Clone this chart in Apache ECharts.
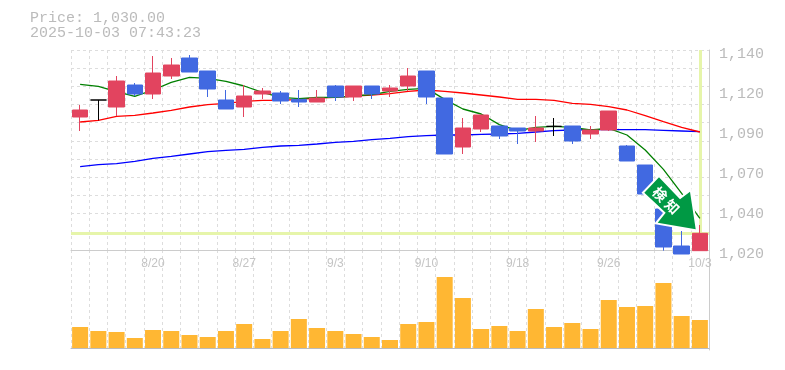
<!DOCTYPE html>
<html><head><meta charset="utf-8">
<style>html,body{margin:0;padding:0;background:#fff}#c{width:785px;height:370px}</style>
<script src="https://cdn.jsdelivr.net/npm/echarts@6/dist/echarts.min.js"></script>
</head><body><div id="c"></div>
<script>
const titleLines = ['Price: 1,030.00', '2025-10-03 07:43:23'];
const priceLabels = ['1,020', '1,040', '1,070', '1,090', '1,120', '1,140'];
const dates = ['8/14','8/15','8/18','8/19','8/20','8/21','8/22','8/25','8/26','8/27','8/28','8/29','9/1','9/2','9/3','9/4','9/5','9/8','9/9','9/10','9/11','9/12','9/16','9/17','9/18','9/19','9/22','9/24','9/25','9/26','9/29','9/30','10/1','10/2','10/3'];
const shownDates = ['8/20','8/27','9/3','9/10','9/18','9/26','10/3'];
const opens = [1099.8,1110,1105.8,1119,1113.6,1124.4,1135.2,1127.4,1110,1105.8,1113.6,1114.2,1110.4,1108.8,1118.4,1111.8,1118.4,1115.4,1118.4,1127.4,1111.2,1081.8,1092.6,1094.4,1093.2,1091.4,1094.2,1094.4,1089.6,1092,1082.4,1071,1044.6,1022.4,1019.6];
const closes = [1104,1110,1121.4,1113.6,1126.2,1131,1126.8,1116.6,1104.6,1112.4,1115.4,1109.4,1108.8,1111.2,1111.8,1118.4,1113.6,1117.2,1124.4,1111.8,1077.6,1093.2,1101,1088.4,1091.4,1093.2,1094.2,1085.4,1092,1103.4,1073.4,1053.6,1021.8,1017.6,1030];
const lows = [1091.4,1097.8,1100.4,1112.4,1110.6,1122.6,1126.8,1111.8,1104.6,1099.8,1110.6,1107.6,1105.8,1108.8,1109.4,1109.4,1110.6,1111.8,1115.4,1107.6,1077.6,1077.6,1090.8,1086.6,1083.6,1084.8,1088.4,1083.6,1086.6,1091.4,1073.4,1053.6,1019.6,1017.6,1019.6];
const highs = [1107,1110,1124.4,1120.2,1136.4,1135.2,1137,1127.4,1116,1119,1117.2,1115.4,1116,1116,1119,1118.4,1118.4,1119,1129.2,1127.4,1111.2,1099.2,1101,1094.4,1093.2,1100.4,1099.2,1094.4,1094.4,1103.4,1083,1071,1044.6,1031.4,1035];
const maShort = [1119.4,1118.2,1115,1112.2,1116,1120.6,1123.6,1123,1121.2,1118.4,1114.6,1111.6,1110.8,1111.6,1111.6,1112.4,1113.2,1115.2,1116.4,1117,1110.4,1104.6,1101.6,1095.2,1091.6,1093.6,1094.2,1093.6,1092,1093,1089,1080,1068.4,1054,1039];
const maMid = [1096.8,1097.8,1100.2,1100.8,1102.2,1103.8,1105.8,1107.2,1108,1109.2,1109.8,1109.8,1110.4,1111.2,1111.6,1112.4,1113,1113.8,1115.2,1116,1115.2,1114.2,1113,1111.8,1110.4,1110.4,1109.8,1108,1107.4,1106,1104,1100.6,1097,1093.6,1090.8];
const maLong = [1070,1071.2,1071.8,1073.2,1075,1076.2,1077.6,1079,1079.8,1080.4,1081.6,1082.4,1082.8,1083.6,1084.6,1085.2,1086.2,1087,1088,1088.6,1089,1089,1089.4,1089.6,1090,1090.8,1091.6,1092,1092.2,1092.2,1092.2,1092.2,1091.8,1091.4,1091];
const volumes = [63,51,48,30,54,51,39,33,51,72,27,51,87,60,51,42,33,24,72,78,213,150,57,66,51,117,63,75,57,144,123,126,195,96,84];
const lastPrice = 1030;
const lastDate = '10/3';

const UP = '#e2445f', DOWN = '#4169e1';
const candles = dates.map((d, i) => {
  const item = { value: [opens[i], closes[i], lows[i], highs[i]] };
  if (opens[i] === closes[i]) item.itemStyle = { color: '#000', color0: '#000', borderColor: '#000', borderColor0: '#000', borderColorDoji: '#000', borderWidth: 1 };
  return item;
});
const gridLine = { show: true, lineStyle: { color: '#ddd', type: [3, 3], width: 1 } };
const lineSeries = (name, data, color, extra) => Object.assign({
  name, type: 'line', data, xAxisIndex: 0, yAxisIndex: 0, symbol: 'none', z: 2, animation: false,
  lineStyle: { color, width: 1.3 }
}, extra || {});

const chart = echarts.init(document.getElementById('c'), null, { renderer: 'canvas' });
chart.setOption({
  animation: false,
  backgroundColor: '#fff',
  title: { text: titleLines.join('\n'), left: 30, top: 11, padding: 0,
    textStyle: { fontFamily: 'Liberation Mono', fontSize: 15, fontWeight: 'normal', color: '#bbb', lineHeight: 15 } },
  grid: [
    { left: 71, width: 638, top: 50, height: 200 },
    { left: 71, width: 638, top: 250, height: 100 },
    { left: 71, width: 638, top: 54, height: 200 }
  ],
  xAxis: [
    { type: 'category', gridIndex: 0, data: dates, boundaryGap: true,
      axisTick: { show: false },
      axisLine: { show: true, lineStyle: { color: '#ccc', width: 1 } },
      axisLabel: { color: '#c4c4c4', fontFamily: 'Liberation Sans', fontSize: 12, margin: 8, showMaxLabel: true, hideOverlap: false,
        interval: (i, v) => shownDates.includes(v) },
      splitLine: Object.assign({ interval: 0 }, gridLine) },
    { type: 'category', gridIndex: 1, data: dates, boundaryGap: true,
      axisTick: { show: false },
      axisLine: { show: true, lineStyle: { color: '#bbb', width: 1 } },
      axisLabel: { show: false },
      splitLine: Object.assign({ interval: 0 }, gridLine) },
    { type: 'category', gridIndex: 2, data: dates, show: false }
  ],
  yAxis: [
    { type: 'value', gridIndex: 0, min: 1020, max: 1140, show: false, splitLine: { show: false } },
    { type: 'value', gridIndex: 0, min: 0, max: 11, interval: 1, position: 'right',
      axisLine: { show: true, onZero: false, lineStyle: { color: '#ccc', width: 1 } },
      axisTick: { show: false }, axisLabel: { show: false }, splitLine: gridLine },
    { type: 'value', gridIndex: 2, min: 0, max: 5, interval: 1, position: 'right',
      axisLine: { show: false }, axisTick: { show: false }, splitLine: { show: false },
      axisLabel: { color: '#bbb', fontFamily: 'Liberation Mono', fontSize: 15, margin: 10,
        formatter: v => priceLabels[v] } },
    { type: 'value', gridIndex: 1, min: -6, max: 294, position: 'right',
      axisLine: { show: true, onZero: false, lineStyle: { color: '#ccc', width: 1 } },
      axisTick: { show: false }, axisLabel: { show: false }, splitLine: { show: false } }
  ],
  series: [
    lineSeries('ref', [], '#e6f5aa', { z: 1, markLine: { z: 1, silent: true, symbol: 'none', label: { show: false }, animation: false,
      lineStyle: { color: '#e6f5aa', width: 3, type: 'solid' },
      data: [{ yAxis: lastPrice }, { xAxis: lastDate }] } }),
    lineSeries('long', maLong, '#0000ff'),
    lineSeries('mid', maMid, '#ff0000'),
    lineSeries('short', maShort, '#008000'),
    { name: 'price', type: 'candlestick', xAxisIndex: 0, yAxisIndex: 0, data: candles, barWidth: 16, clip: false, z: 3,
      itemStyle: { color: UP, color0: DOWN, borderColor: UP, borderColor0: DOWN, borderWidth: 1 } },
    { name: 'volume', type: 'bar', xAxisIndex: 1, yAxisIndex: 3, data: volumes, barWidth: 16, z: 3,
      itemStyle: { color: '#ffb733' } }
  ],
  graphic: [
    { type: 'polygon', z: 100,
      shape: { points: [[659,177.3],[680,199.3],[690,191.7],[695.7,229.3],[657.7,222.7],[665.7,212.7],[644.3,192.7]] },
      style: { fill: '#009944', stroke: '#fff', lineWidth: 4, strokeFirst: true, lineJoin: 'miter' } },
    { type: 'text', z: 101, x: 660, y: 194.3, rotation: -Math.PI / 4,
      style: { text: '検', fill: '#fff', font: 'bold 14px "Noto Sans CJK JP"', align: 'center', verticalAlign: 'middle' } },
    { type: 'text', z: 101, x: 672.3, y: 206.7, rotation: -Math.PI / 4,
      style: { text: '知', fill: '#fff', font: 'bold 14px "Noto Sans CJK JP"', align: 'center', verticalAlign: 'middle' } }
  ]
});
</script></body></html>
